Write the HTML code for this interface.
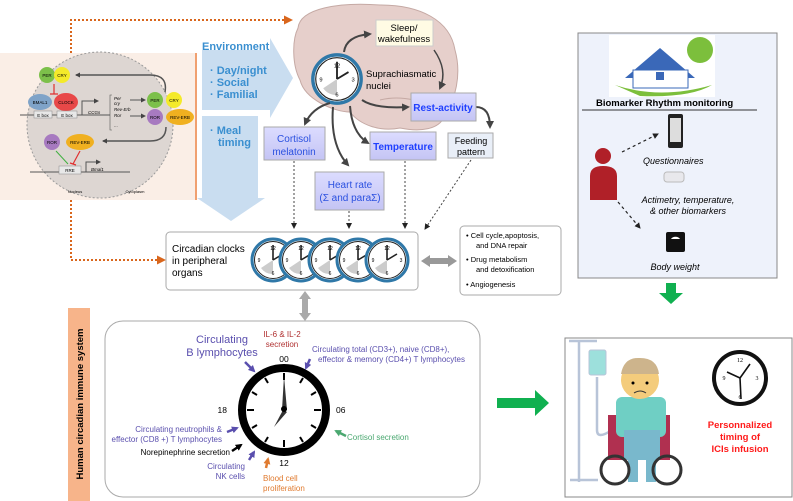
<!DOCTYPE html>
<html><head><meta charset="utf-8"><style>
html,body{margin:0;padding:0;background:#fff}
svg{display:block;font-family:"Liberation Sans",sans-serif}
</style></head><body>
<svg width="793" height="501" viewBox="0 0 793 501" xmlns="http://www.w3.org/2000/svg">
<defs>
<marker id="ah" markerUnits="userSpaceOnUse" markerWidth="8" markerHeight="8" refX="6" refY="4" orient="auto"><path d="M0,0 L8,4 L0,8 Z" fill="#444"/></marker>
<marker id="ahs" markerUnits="userSpaceOnUse" markerWidth="5" markerHeight="5" refX="4" refY="2.5" orient="auto"><path d="M0,0 L5,2.5 L0,5 Z" fill="#444"/></marker>
<marker id="ahk" markerUnits="userSpaceOnUse" markerWidth="6" markerHeight="6" refX="5" refY="3" orient="auto"><path d="M0,0 L6,3 L0,6 Z" fill="#222"/></marker>
<marker id="ahp" markerUnits="userSpaceOnUse" markerWidth="7" markerHeight="7" refX="5" refY="3.5" orient="auto"><path d="M0,0 L7,3.5 L0,7 Z" fill="#5a4fae"/></marker>
<marker id="ahb" markerUnits="userSpaceOnUse" markerWidth="7" markerHeight="7" refX="5" refY="3.5" orient="auto"><path d="M0,0 L7,3.5 L0,7 Z" fill="#000"/></marker>
<marker id="ahor" markerUnits="userSpaceOnUse" markerWidth="7" markerHeight="7" refX="5" refY="3.5" orient="auto"><path d="M0,0 L7,3.5 L0,7 Z" fill="#e07b30"/></marker>
<marker id="ahg" markerUnits="userSpaceOnUse" markerWidth="7" markerHeight="7" refX="5" refY="3.5" orient="auto"><path d="M0,0 L7,3.5 L0,7 Z" fill="#4aa870"/></marker>
<marker id="aho" markerUnits="userSpaceOnUse" markerWidth="9" markerHeight="9" refX="6" refY="4.5" orient="auto"><path d="M0,0 L9,4.5 L0,9 Z" fill="#d9661c"/></marker>
<linearGradient id="lav" x1="0" y1="0" x2="0" y2="1"><stop offset="0" stop-color="#dcdcff"/><stop offset="1" stop-color="#c4c4f4"/></linearGradient>
<g id="sclk"><circle r="21" fill="#fff" stroke="#2f78a8" stroke-width="3"/><circle r="18.5" fill="none" stroke="#222" stroke-width="1"/><path d="M0,0 L0,-15 M0,0 L10,-6" stroke="#222" stroke-width="1.6"/><path d="M0,0 L-12,8 A14,14 0 0 0 0,14 Z" fill="#ccc"/><text x="0" y="-10" font-size="5" text-anchor="middle">12</text><text x="0" y="15" font-size="5" text-anchor="middle">6</text><text x="-14" y="2" font-size="5" text-anchor="middle">9</text><text x="14" y="2" font-size="5" text-anchor="middle">3</text></g>
</defs>

<!-- orange dotted -->
<path d="M71,53 V20 H290" fill="none" stroke="#d9661c" stroke-width="2" stroke-dasharray="2,2" marker-end="url(#aho)"/>
<path d="M71,200 V260 H163" fill="none" stroke="#d9661c" stroke-width="2" stroke-dasharray="2,2" marker-end="url(#aho)"/>

<!-- pink panel -->
<rect x="0" y="53" width="196" height="147" fill="#faeee6"/>
<line x1="196" y1="53" x2="196" y2="200" stroke="#f0a070" stroke-width="2"/>
<circle cx="100" cy="125" r="73" fill="#ddd6d2" stroke="#999" stroke-dasharray="2,2"/>
<g font-size="4.5">
<path d="M165,92 Q168,75 150,75 L76,75" fill="none" stroke="#555" stroke-width="1.5" marker-end="url(#ahs)"/>
<circle cx="47" cy="75" r="8" fill="#7cc04a"/><text x="47" y="77" text-anchor="middle">PER</text>
<circle cx="62" cy="75" r="8" fill="#f4ea2a"/><text x="62" y="77" text-anchor="middle">CRY</text>
<path d="M54,84 V94 M50,94 H58" stroke="#e03030" stroke-width="1.2"/>
<ellipse cx="40" cy="102" rx="12" ry="8" fill="#7fa3c8"/><text x="40" y="104" text-anchor="middle">BMAL1</text>
<ellipse cx="66" cy="102" rx="12" ry="9" fill="#e84848"/><text x="66" y="104" text-anchor="middle">CLOCK</text>
<line x1="20" y1="115" x2="110" y2="115" stroke="#555"/>
<rect x="34" y="111" width="18" height="7" fill="#e8e8e8" stroke="#888" stroke-width=".5"/><text x="43" y="117" text-anchor="middle">E box</text>
<rect x="57" y="111" width="20" height="7" fill="#e8e8e8" stroke="#888" stroke-width=".5"/><text x="67" y="117" text-anchor="middle">E box</text>
<path d="M82,115 V101 H98" fill="none" stroke="#555" marker-end="url(#ahs)"/>
<text x="88" y="114" font-style="italic">CCGs</text>
<path d="M112,95 H110 V130 H112" fill="none" stroke="#555" stroke-width=".6"/>
<text x="114" y="100" font-style="italic">Per</text><text x="114" y="105" font-style="italic">cry</text><text x="114" y="111" font-style="italic">Rev-Erb</text><text x="114" y="117" font-style="italic">Ror</text><text x="114" y="127">...</text>
<line x1="130" y1="100" x2="145" y2="100" stroke="#555" marker-end="url(#ahs)"/>
<line x1="130" y1="116" x2="145" y2="116" stroke="#555" marker-end="url(#ahs)"/>
<circle cx="155" cy="100" r="8" fill="#7cc04a"/><text x="155" y="102" text-anchor="middle">PER</text>
<circle cx="174" cy="100" r="8" fill="#f4ea2a"/><text x="174" y="102" text-anchor="middle">CRY</text>
<circle cx="155" cy="117" r="8" fill="#a77ac0"/><text x="155" y="119" text-anchor="middle">ROR</text>
<ellipse cx="180" cy="117" rx="14" ry="8" fill="#f0b020"/><text x="180" y="119" text-anchor="middle">REV-ERB</text>
<path d="M166,127 Q166,141 150,141 L103,141" fill="none" stroke="#555" stroke-width="1.5" marker-end="url(#ahs)"/>
<circle cx="52" cy="142" r="8" fill="#a77ac0"/><text x="52" y="144" text-anchor="middle">ROR</text>
<ellipse cx="80" cy="142" rx="14" ry="8" fill="#f0b020"/><text x="80" y="144" text-anchor="middle">REV-ERB</text>
<line x1="56" y1="151" x2="68" y2="164" stroke="#40b040"/>
<path d="M80,151 L73,164 M70,163 L76,165" stroke="#e03030" stroke-width="1.2" fill="none"/>
<line x1="30" y1="172" x2="130" y2="172" stroke="#555"/>
<rect x="59" y="166" width="22" height="8" fill="#e8e8e8" stroke="#888" stroke-width=".5"/><text x="70" y="172" text-anchor="middle">RRE</text>
<path d="M86,172 V162 H100" fill="none" stroke="#555" marker-end="url(#ahs)"/>
<text x="91" y="171" font-style="italic">Bmal1</text>
<text x="75" y="193" text-anchor="middle" font-size="4">Nucleus</text><text x="135" y="193" text-anchor="middle" font-size="4">Cytoplasm</text>
</g>

<!-- environment arrows -->
<path d="M202,50 H270 V38 L293,78 L270,118 V110 H202 Z" fill="#c9ddf0"/>
<path d="M202,116 H258 V198 H265 L231,221 L197,198 H202 Z" fill="#c9ddf0"/>
<text x="202" y="50" font-size="11" font-weight="bold" fill="#3a8fd0">Environment</text>
<g font-size="11" font-weight="bold" fill="#3a8fd0"><text x="210" y="74">· Day/night</text><text x="210" y="86">· Social</text><text x="210" y="98">· Familial</text><text x="210" y="134">· Meal</text><text x="218" y="146">timing</text></g>

<!-- brain -->
<path d="M298,28 C300,8 340,2 380,5 C420,5 450,20 455,50 C462,75 455,100 445,115 C440,130 420,132 400,128 C380,132 360,125 350,112 C335,112 305,100 300,80 C292,65 292,40 298,28 Z" fill="#e6cfcb" stroke="#c5a9a4"/>
<path d="M380,100 C400,95 430,100 440,115" fill="none" stroke="#c5a9a4"/>
<rect x="376" y="20" width="57" height="26" fill="#fffbe4" stroke="#ccc"/>
<text x="404" y="31" font-size="9.5" text-anchor="middle">Sleep/</text><text x="404" y="42" font-size="9.5" text-anchor="middle">wakefulness</text>
<path d="M344,52 Q346,36 370,34" fill="none" stroke="#444" stroke-width="2" marker-end="url(#ah)"/>
<path d="M434,50 Q448,70 440,88" fill="none" stroke="#444" stroke-width="1.5" marker-end="url(#ah)"/>
<g transform="translate(337,79) scale(1.15)"><use href="#sclk"/></g>
<text x="366" y="77" font-size="9.5">Suprachiasmatic</text><text x="366" y="89" font-size="9.5">nuclei</text>
<path d="M362,100 Q375,109 408,107" fill="none" stroke="#444" stroke-width="2" marker-end="url(#ah)"/>
<path d="M330,103 Q312,108 305,124" fill="none" stroke="#444" stroke-width="2" marker-end="url(#ah)"/>
<path d="M333,107 Q330,145 348,165" fill="none" stroke="#444" stroke-width="2" marker-end="url(#ah)"/>
<path d="M350,106 Q352,133 368,143" fill="none" stroke="#444" stroke-width="2" marker-end="url(#ah)"/>
<path d="M476,107 Q490,107 490,127" fill="none" stroke="#444" stroke-width="2" marker-end="url(#ah)"/>
<rect x="411" y="93" width="65" height="28" fill="url(#lav)" stroke="#aaa"/>
<text x="443" y="111" font-size="10" font-weight="bold" fill="#2040ff" text-anchor="middle">Rest-activity</text>
<rect x="264" y="127" width="61" height="33" fill="url(#lav)" stroke="#aaa"/>
<text x="294" y="142" font-size="10" fill="#2a50e0" text-anchor="middle">Cortisol</text><text x="294" y="155" font-size="10" fill="#2a50e0" text-anchor="middle">melatonin</text>
<rect x="370" y="132" width="66" height="28" fill="url(#lav)" stroke="#aaa"/>
<text x="403" y="150" font-size="10" font-weight="bold" fill="#2040ff" text-anchor="middle">Temperature</text>
<rect x="448" y="133" width="45" height="25" fill="#e9eff8" stroke="#aaa"/>
<text x="471" y="144" font-size="9" text-anchor="middle">Feeding</text><text x="471" y="155" font-size="9" text-anchor="middle">pattern</text>
<rect x="315" y="172" width="69" height="38" fill="url(#lav)" stroke="#aaa"/>
<text x="350" y="188" font-size="10" fill="#2a50e0" text-anchor="middle">Heart rate</text><text x="350" y="201" font-size="10" fill="#2a50e0" text-anchor="middle">(Σ and paraΣ)</text>
<g stroke="#444" stroke-width="1" stroke-dasharray="2,2" fill="none">
<line x1="294" y1="161" x2="294" y2="228" marker-end="url(#ahk)"/>
<line x1="349" y1="211" x2="349" y2="228" marker-end="url(#ahk)"/>
<line x1="405" y1="161" x2="405" y2="228" marker-end="url(#ahk)"/>
<line x1="471" y1="160" x2="425" y2="229" marker-end="url(#ahk)"/>
</g>

<!-- peripheral -->
<rect x="166" y="232" width="252" height="58" rx="4" fill="#fff" stroke="#aaa"/>
<text x="172" y="252" font-size="10">Circadian clocks</text><text x="172" y="264" font-size="10">in peripheral</text><text x="172" y="276" font-size="10">organs</text>
<g transform="translate(273,260)"><use href="#sclk"/></g>
<g transform="translate(301,260)"><use href="#sclk"/></g>
<g transform="translate(330,260)"><use href="#sclk"/></g>
<g transform="translate(358,260)"><use href="#sclk"/></g>
<g transform="translate(387,260)"><use href="#sclk"/></g>
<path d="M421,261 L430,255 V258 H448 V255 L457,261 L448,267 V264 H430 V267 Z" fill="#999"/>
<path d="M305,291 L299,299 H302 V313 H299 L305,321 L311,313 H308 V299 H311 Z" fill="#aaa"/>
<rect x="460" y="226" width="101" height="69" rx="4" fill="#fff" stroke="#aaa"/>
<g font-size="7.5"><text x="466" y="238">•  Cell cycle,apoptosis,</text><text x="476" y="248">and DNA repair</text><text x="466" y="262">•  Drug metabolism</text><text x="476" y="272">and detoxification</text><text x="466" y="287">•  Angiogenesis</text></g>

<!-- immune -->
<rect x="68" y="308" width="22" height="193" fill="#f7b48a"/>
<text transform="translate(83,404) rotate(-90)" font-size="9.5" font-weight="bold" text-anchor="middle">Human circadian immune system</text>
<rect x="105" y="321" width="375" height="176" rx="18" fill="#fff" stroke="#aaa"/>
<circle cx="284" cy="410" r="42" fill="#fff" stroke="#000" stroke-width="8"/>
<g stroke="#000" stroke-width="2">
<line x1="284" y1="373" x2="284" y2="380"/><line x1="284" y1="440" x2="284" y2="447"/><line x1="247" y1="410" x2="254" y2="410"/><line x1="314" y1="410" x2="321" y2="410"/>
<line x1="265" y1="378" x2="268" y2="383"/><line x1="303" y1="378" x2="300" y2="383"/><line x1="252" y1="392" x2="257" y2="395"/><line x1="316" y1="392" x2="311" y2="395"/>
<line x1="252" y1="428" x2="257" y2="425"/><line x1="316" y1="428" x2="311" y2="425"/><line x1="265" y1="442" x2="268" y2="437"/><line x1="303" y1="442" x2="300" y2="437"/>
</g>
<path d="M282,410 L284,376 L287,410 Z" fill="#333"/><path d="M283,410 L274,427 L287,412 Z" fill="#333"/><circle cx="284" cy="409" r="3" fill="#000"/>
<g font-size="8.5"><text x="284" y="362" text-anchor="middle">00</text><text x="336" y="413">06</text><text x="284" y="466" text-anchor="middle">12</text><text x="227" y="413" text-anchor="end">18</text></g>
<g fill="#5a4fae">
<text x="222" y="343" font-size="11" text-anchor="middle">Circulating</text><text x="222" y="356" font-size="11" text-anchor="middle">B lymphocytes</text>
<text x="312" y="352" font-size="8">Circulating total (CD3+), naive (CD8+),</text><text x="318" y="362" font-size="8">effector &amp; memory (CD4+) T lymphocytes</text>
<text x="222" y="432" font-size="8" text-anchor="end">Circulating neutrophils &amp;</text><text x="222" y="442" font-size="8" text-anchor="end">effector (CD8 +) T lymphocytes</text>
<text x="245" y="469" font-size="8" text-anchor="end">Circulating</text><text x="245" y="479" font-size="8" text-anchor="end">NK cells</text>
</g>
<text x="282" y="337" font-size="8" fill="#b03030" text-anchor="middle">IL-6 &amp; IL-2</text><text x="282" y="347" font-size="8" fill="#b03030" text-anchor="middle">secretion</text>
<text x="230" y="455" font-size="8" text-anchor="end">Norepinephrine secretion</text>
<text x="263" y="481" font-size="8" fill="#e07b30">Blood cell</text><text x="263" y="491" font-size="8" fill="#e07b30">proliferation</text>
<text x="347" y="440" font-size="8" fill="#4aa870">Cortisol secretion</text>
<g stroke-width="2.5" fill="none">
<line x1="245" y1="362" x2="254" y2="371" stroke="#5a4fae" marker-end="url(#ahp)"/>
<line x1="310" y1="359" x2="306" y2="368" stroke="#5a4fae" marker-end="url(#ahp)"/>
<line x1="227" y1="432" x2="237" y2="428" stroke="#5a4fae" marker-end="url(#ahp)"/>
<line x1="232" y1="451" x2="241" y2="445" stroke="#000" marker-end="url(#ahb)"/>
<line x1="249" y1="460" x2="254" y2="452" stroke="#5a4fae" marker-end="url(#ahp)"/>
<line x1="266" y1="468" x2="268" y2="459" stroke="#e07b30" marker-end="url(#ahor)"/>
<line x1="346" y1="436" x2="336" y2="431" stroke="#4aa870" marker-end="url(#ahg)"/>
</g>

<!-- right box -->
<rect x="578" y="33" width="199" height="245" fill="#eef2fb" stroke="#888"/>
<rect x="609" y="35" width="106" height="62" fill="#fff"/>
<circle cx="700" cy="50" r="13" fill="#7cbf3c"/>
<path d="M625,78 L660,48 L695,78 Z" fill="#3a68b8"/><rect x="633" y="70" width="55" height="18" fill="#fff" stroke="#3a68b8"/>
<rect x="656" y="72" width="8" height="8" fill="#3a68b8"/>
<path d="M615,85 Q660,100 712,85 Q690,98 640,96 Z" fill="#7cbf3c"/>
<text x="596" y="106" font-size="9.5" font-weight="bold">Biomarker Rhythm monitoring</text>
<line x1="582" y1="110" x2="757" y2="110" stroke="#333"/>
<circle cx="603" cy="156" r="8" fill="#b02028"/><path d="M590,200 V176 Q590,166 603,166 Q617,166 617,176 V200 Z" fill="#b02028"/>
<rect x="668" y="114" width="15" height="34" rx="2" fill="#222"/><rect x="670" y="118" width="11" height="24" fill="#ddd"/>
<text x="643" y="164" font-size="9" font-style="italic">Questionnaires</text>
<rect x="664" y="172" width="20" height="10" rx="3" fill="#e8e8ec" stroke="#bbb"/>
<text x="688" y="203" font-size="9" font-style="italic" text-anchor="middle">Actimetry,  temperature,</text><text x="688" y="214" font-size="9" font-style="italic" text-anchor="middle">&amp; other biomarkers</text>
<rect x="666" y="232" width="19" height="20" rx="2" fill="#111"/><path d="M671,239 A5,4 0 0 1 680,239 Z" fill="#fff"/>
<text x="675" y="270" font-size="9" font-style="italic" text-anchor="middle">Body weight</text>
<g stroke="#222" stroke-width="1.2" stroke-dasharray="3,3" fill="none"><line x1="622" y1="152" x2="658" y2="134" marker-end="url(#ahk)"/><line x1="618" y1="202" x2="640" y2="228" marker-end="url(#ahk)"/></g>
<path d="M666,283 H676 V293 H683 L671,304 L659,293 H666 Z" fill="#10b050"/>
<path d="M497,398 H535 V390 L549,403 L535,416 V408 H497 Z" fill="#10b050"/>

<!-- bottom right -->
<rect x="565" y="338" width="227" height="159" fill="#fff" stroke="#888"/>
<g stroke="#b8c4d8" stroke-width="2.5" fill="none"><line x1="579" y1="340" x2="579" y2="482"/><line x1="569" y1="341" x2="597" y2="341"/><line x1="570" y1="480" x2="598" y2="480"/><path d="M597,377 V430 Q597,440 612,430"/></g>
<rect x="589" y="350" width="17" height="25" rx="2" fill="#9de0dc" stroke="#b8c4d8"/>
<rect x="608" y="415" width="62" height="45" fill="#b03050"/>
<rect x="616" y="397" width="50" height="40" rx="6" fill="#6fcfc4"/>
<rect x="624" y="430" width="36" height="30" fill="#79b8cc"/>
<rect x="628" y="457" width="10" height="25" fill="#79b8cc"/><rect x="646" y="457" width="10" height="25" fill="#79b8cc"/>
<circle cx="615" cy="470" r="14" fill="none" stroke="#333" stroke-width="3"/><circle cx="667" cy="470" r="14" fill="none" stroke="#333" stroke-width="3"/>
<circle cx="640" cy="380" r="19" fill="#f4cc7c"/><path d="M621,374 Q624,357 640,358 Q657,358 659,374 Z" fill="#cdb48c"/>
<circle cx="633" cy="383" r="1.5"/><circle cx="647" cy="383" r="1.5"/><path d="M634,393 Q640,389 646,393" stroke="#333" fill="none"/>
<circle cx="740" cy="378" r="26" fill="#fff" stroke="#111" stroke-width="4"/>
<g font-size="6" font-family="Liberation Serif" text-anchor="middle"><text x="740" y="362">12</text><text x="740" y="399">6</text><text x="724" y="380">9</text><text x="757" y="380">3</text></g>
<path d="M740,378 L727,372 M740,378 L741,399 M740,378 L750,364" stroke="#111" stroke-width="1.6"/>
<g font-size="9.5" font-weight="bold" fill="#ff1a1a" text-anchor="middle"><text x="740" y="428">Personnalized</text><text x="740" y="440">timing of</text><text x="740" y="452">ICIs infusion</text></g>
</svg>
</body></html>
